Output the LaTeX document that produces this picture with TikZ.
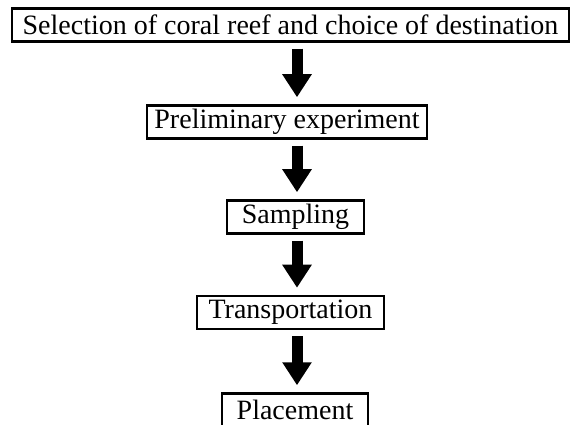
\documentclass[tikz,border=0pt]{standalone}
\usepackage{fontspec}
\setmainfont{Liberation Serif}
\usetikzlibrary{arrows.meta}
\tikzset{
  stagebox/.style={draw, line width=2.5pt, minimum height=33pt, inner sep=0pt,
    font=\fontsize{28}{32}\selectfont},
  flow/.style={line width=11pt, -{Triangle[width=28pt,length=23pt]},
    shorten <=6pt, shorten >=7pt}
}

\begin{document}
\begin{tikzpicture}[x=1pt,y=-1pt]
  \useasboundingbox (0,0) rectangle (571,425);
  % stages of the transplantation, top to bottom
  \foreach \n/\x/\y/\w/\t in {sel/290.5/25/557/Selection of coral reef and choice of destination,
      pre/287/122/280/Preliminary experiment,
      sam/295.5/217/137/Sampling,
      tra/290.5/312.5/187/Transportation,
      pla/295/410/146/Placement}{
    \node[stagebox, minimum width=\w pt] (\n) at (\x,\y) {\t};
  }
  % all arrows share one vertical line
  \coordinate (axis) at (297,0);
  \foreach \a/\b in {sel/pre, pre/sam, sam/tra, tra/pla}
    \draw[flow] (\a.south -| axis) -- (\b.north -| axis);
\end{tikzpicture}
\end{document}
